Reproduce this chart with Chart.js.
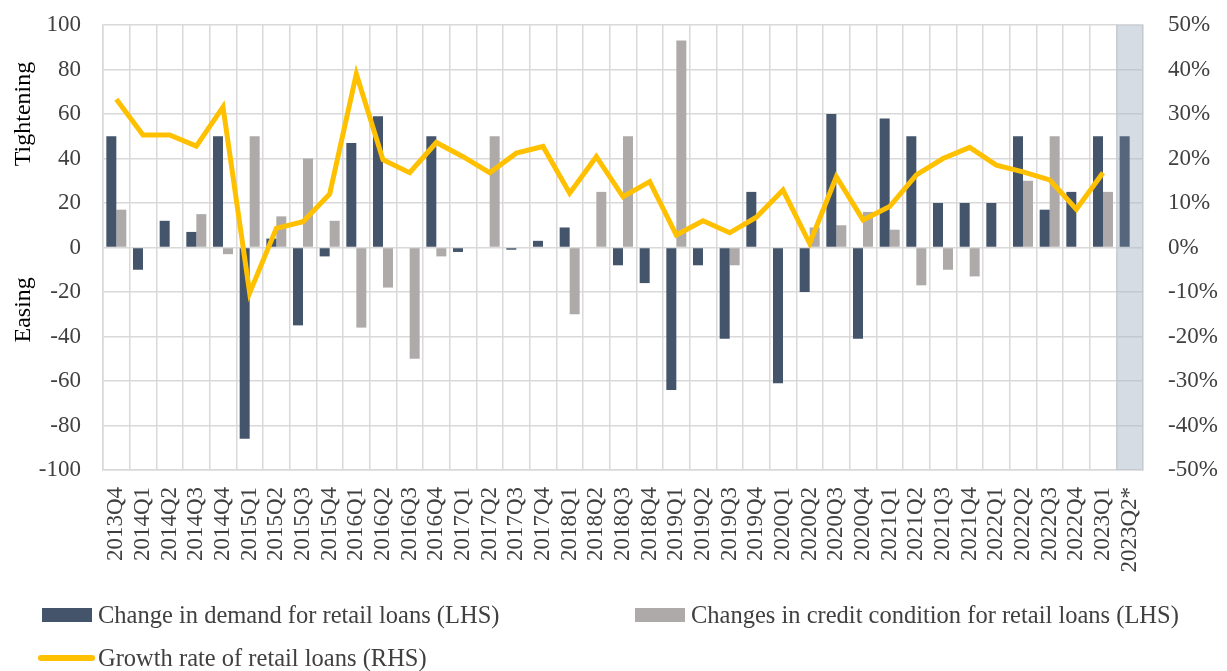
<!DOCTYPE html>
<html>
<head>
<meta charset="utf-8">
<script src="https://cdn.jsdelivr.net/npm/chart.js@4.4.0/dist/chart.umd.min.js"></script>
<style>
  body { margin: 0; background: #fff; }
  #wrap { position: relative; width: 1227px; height: 671px; }
  #myChart { position: absolute; left: 0; top: 0; }
  .legend { position: absolute; height: 28px; font-family: "Liberation Serif", serif; font-size: 24.5px; color: #404040; display: flex; align-items: center; white-space: nowrap; }
  .box { width: 50px; height: 14px; margin-right: 6px; }
  .ln { width: 57px; height: 6px; border-radius: 3px; margin-left: -4px; margin-right: 3px; background: #ffc000; }
</style>
</head>
<body>
<div id="wrap">
  <canvas id="myChart" width="1227" height="671"></canvas>
  <div class="legend" style="left:42px; top:601px;"><div class="box" style="background:#44546a"></div>Change in demand for retail loans (LHS)</div>
  <div class="legend" style="left:635px; top:601px;"><div class="box" style="background:#aeaaaa"></div>Changes in credit condition for retail loans (LHS)</div>
  <div class="legend" style="left:42px; top:644px;"><div class="ln"></div>Growth rate of retail loans (RHS)</div>
</div>
<script>
const labels = [
  "2013Q4",
  "2014Q1", "2014Q2", "2014Q3", "2014Q4",
  "2015Q1", "2015Q2", "2015Q3", "2015Q4",
  "2016Q1", "2016Q2", "2016Q3", "2016Q4",
  "2017Q1", "2017Q2", "2017Q3", "2017Q4",
  "2018Q1", "2018Q2", "2018Q3", "2018Q4",
  "2019Q1", "2019Q2", "2019Q3", "2019Q4",
  "2020Q1", "2020Q2", "2020Q3", "2020Q4",
  "2021Q1", "2021Q2", "2021Q3", "2021Q4",
  "2022Q1", "2022Q2", "2022Q3", "2022Q4",
  "2023Q1", "2023Q2*",
];

// change in demand (LHS)
const demand = [
  50,
  -10, 12, 7, 50,
  -86, 4, -35, -4,
  47, 59, 0, 50,
  -2, 0, -1, 3,
  9, 0, -8, -16,
  -64, -8, -41, 25,
  -61, -20, 60, -41,
  58, 50, 20, 20,
  20, 50, 17, 25,
  50, 50,
];

// change in credit conditions (LHS)
const credit = [
  17,
  0, 0, 15, -3,
  50, 14, 40, 12,
  -36, -18, -50, -4,
  0, 50, 0, 0,
  -30, 25, 50, 0,
  93, 0, -8, 0,
  0, 9, 10, 16,
  8, -17, -10, -13,
  0, 30, 50, 0,
  25, 0,
];

// growth rate of retail loans, % (RHS)
const growth = [
  33.3,
  25.3, 25.3, 22.8, 31.6,
  -10.2, 4.3, 5.8, 12.0,
  39.0, 19.7, 16.8, 23.6,
  20.4, 16.8, 21.2, 22.7,
  12.2, 20.4, 11.4, 14.8,
  2.8, 6.0, 3.3, 6.8,
  12.9, 0.9, 15.9, 6.2,
  9.2, 16.3, 20.0, 22.5,
  18.5, 17.0, 15.2, 8.6,
  16.8, null,
];

const leftTicks = [-100, -80, -60, -40, -20, 0, 20, 40, 60, 80, 100];
const forecastLabel = "2023Q2*";

const ctx = document.getElementById("myChart").getContext("2d");
const serif = "'Liberation Serif', 'DejaVu Serif', serif";

const forecastShade = {
  id: "forecastShade",
  beforeDatasetsDraw(chart) {
    const { ctx, chartArea: { top, bottom }, scales: { x } } = chart;
    const i = labels.indexOf(forecastLabel);
    const half = (x.getPixelForValue(1) - x.getPixelForValue(0)) / 2;
    const c = x.getPixelForValue(i);
    ctx.save();
    ctx.fillStyle = "rgba(172, 185, 202, 0.5)";
    ctx.fillRect(c - half, top, half * 2, bottom - top);
    ctx.restore();
  },
};

const sideText = {
  id: "sideText",
  afterDraw(chart) {
    const { ctx, scales: { y } } = chart;
    ctx.save();
    ctx.fillStyle = "#000";
    ctx.font = "24px " + serif;
    ctx.textAlign = "center";
    ctx.textBaseline = "middle";
    [["Tightening", 60], ["Easing", -28]].forEach(([t, v]) => {
      ctx.save();
      ctx.translate(24, y.getPixelForValue(v));
      ctx.rotate(-Math.PI / 2);
      ctx.fillText(t, 0, 0);
      ctx.restore();
    });
    ctx.restore();
  },
};

// no automatic label overflow padding, the layout padding decides the top
function noPad(scale) {
  scale.paddingTop = 0;
  scale.paddingBottom = 0;
}

new Chart(ctx, {
  type: "bar",
  data: {
    labels: labels,
    datasets: [
      {
        type: "line",
        label: "Growth rate of retail loans (RHS)",
        data: growth,
        yAxisID: "y1",
        borderColor: "#ffc000",
        borderWidth: 5,
        pointRadius: 0,
        tension: 0,
        order: 0,
      },
      {
        label: "Change in demand for retail loans (LHS)",
        data: demand,
        yAxisID: "y",
        backgroundColor: labels.map((l) => (l === forecastLabel ? "#56667d" : "#44546a")),
        barPercentage: 1,
        categoryPercentage: 0.75,
        order: 1,
      },
      {
        label: "Changes in credit condition for retail loans (LHS)",
        data: credit,
        yAxisID: "y",
        backgroundColor: "#aeaaaa",
        barPercentage: 1,
        categoryPercentage: 0.75,
        order: 1,
      },
    ],
  },
  options: {
    responsive: false,
    animation: false,
    layout: { padding: { top: 25, right: 0, left: 0, bottom: 0 } },
    scales: {
      x: {
        grid: { color: "#d9d9d9", lineWidth: 1.5, drawTicks: false },
        border: { color: "#d9d9d9", width: 1.5 },
        ticks: {
          color: "#404040",
          font: { family: serif, size: 23 },
          minRotation: 90,
          maxRotation: 90,
          autoSkip: false,
          padding: 17,
        },
        afterFit(scale) {
          scale.height = 201;
          scale.paddingLeft = 0;
          scale.paddingRight = 0;
        },
      },
      y: {
        position: "left",
        min: -100,
        max: 100,
        afterBuildTicks(scale) { scale.ticks = leftTicks.map((v) => ({ value: v })); },
        grid: { color: "#d9d9d9", lineWidth: 1.5, drawTicks: false },
        border: { color: "#d9d9d9", width: 1.5 },
        ticks: { color: "#404040", font: { family: serif, size: 23 }, padding: 22 },
        afterFit(scale) { scale.width = 103; noPad(scale); },
      },
      y1: {
        position: "right",
        min: -50,
        max: 50,
        grid: { display: false, drawTicks: false },
        border: { color: "#d9d9d9", width: 1.5 },
        ticks: {
          stepSize: 10,
          color: "#404040",
          font: { family: serif, size: 23 },
          padding: 25,
          callback: (v) => v + "%",
        },
        afterFit(scale) { scale.width = 84; noPad(scale); },
      },
    },
    plugins: {
      legend: { display: false },
      tooltip: { enabled: false },
    },
  },
  plugins: [forecastShade, sideText],
});
</script>
</body>
</html>
